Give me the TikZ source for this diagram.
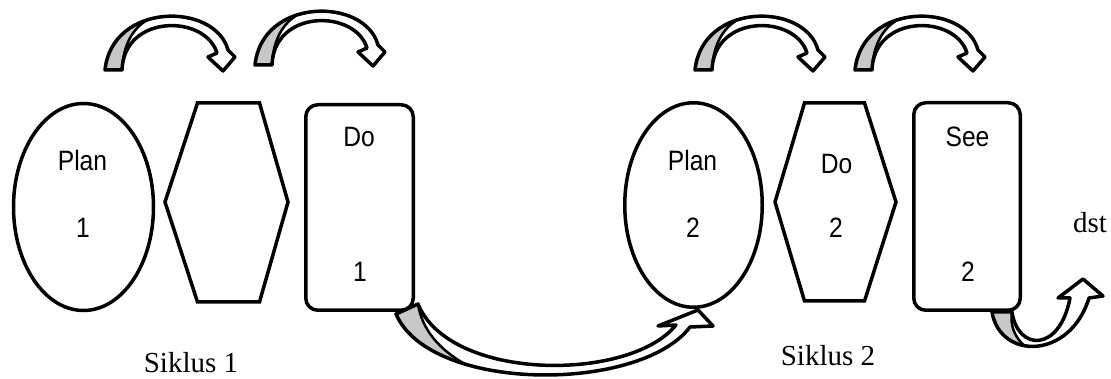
\documentclass[tikz,border=0pt]{standalone}
\usepackage{fontspec}
\setmainfont{Liberation Serif}
\newfontfamily\boxfont[FakeStretch=0.88]{Liberation Sans}
\usetikzlibrary{shapes.geometric}
\definecolor{arrowgray}{RGB}{200,200,200}
\tikzset{
  shapeline/.style={draw=black, line width=3.5pt, fill=white},
  boxtxt/.style={font=\boxfont\fontsize{28}{30}\selectfont, anchor=base, inner sep=0pt},
  sertxt/.style={font=\fontsize{29}{32}\selectfont, anchor=base, inner sep=0pt},
  arrowline/.style={draw=black, line width=3.5pt, line join=round},
  twistline/.style={draw=black, line width=2.5pt, line cap=round},
  toparrow/.pic={
    \fill[white] (0,0) -- (17,0) .. controls (19,-56) and (100,-56) .. (112,-17) -- (103,-13) -- (118,1) -- (130,-13) -- (123,-20) .. controls (110,-68) and (7,-68) .. (0,0) -- cycle;
    \fill[arrowgray] (0,0) .. controls (2.8,-27.2) and (21,-43.5) .. (42.6,-50.2) .. controls (28,-42) and (18,-25) .. (17,0) -- cycle;
    \draw[twistline] (42.6,-50.2) .. controls (28,-42) and (18,-25) .. (17,0);
    \draw[arrowline] (0,0) -- (17,0) .. controls (19,-56) and (100,-56) .. (112,-17) -- (103,-13) -- (118,1) -- (130,-13) -- (123,-20) .. controls (110,-68) and (7,-68) .. (0,0) -- cycle;
  }
}
\begin{document}
\begin{tikzpicture}[x=1pt, y=-1pt]
\useasboundingbox (0,0) rectangle (1111,379);

% top curved arrows
\pic at (105,70) {toparrow};
\pic at (255,65) {toparrow};
\pic at (695,70) {toparrow};
\pic at (855,70) {toparrow};

% big bottom arrow (Do 1 -> Plan 2)
\fill[white] (396,314) .. controls (430,393) and (640,393) .. (690,327) -- (713,326) -- (698,310) -- (658,326) -- (676,325) .. controls (630,382) and (450,382) .. (418,304) -- cycle;
\fill[arrowgray] (396,314) .. controls (406.2,337.7) and (432.2,354.3) .. (465,364.1) .. controls (440,350) and (422,330) .. (418,304) -- cycle;
\draw[twistline] (465,364.1) .. controls (440,350) and (422,330) .. (418,304);
\draw[arrowline] (396,314) .. controls (430,393) and (640,393) .. (690,327) -- (713,326) -- (698,310) -- (658,326) -- (676,325) .. controls (630,382) and (450,382) .. (418,304) -- cycle;

% small right arrow (See 2 -> dst)
\fill[white] (992,312) .. controls (1000,360) and (1070,360) .. (1089,298) -- (1103,296) -- (1083,279) -- (1058,298) -- (1070,298) .. controls (1060,352) and (1018,352) .. (1012,312) -- cycle;
\fill[arrowgray] (992,312) .. controls (995.2,331.2) and (1008.3,342.7) .. (1024.1,345.6) .. controls (1014,336) and (1010,325) .. (1012,312) -- cycle;
\draw[twistline] (1024.1,345.6) .. controls (1014,336) and (1010,325) .. (1012,312);
\draw[arrowline] (992,312) .. controls (1000,360) and (1070,360) .. (1089,298) -- (1103,296) -- (1083,279) -- (1058,298) -- (1070,298) .. controls (1060,352) and (1018,352) .. (1012,312) -- cycle;

% cycle 1 shapes
\node[shapeline, ellipse, inner sep=0pt, minimum width=140pt, minimum height=207pt] (plan1) at (83.5,207) {};
\draw[shapeline] (197.5,103) -- (259.5,103) -- (288,202) -- (259.5,302) -- (197.5,302) -- (165,202) -- cycle;
\coordinate (hex1) at (226,202);
\node[shapeline, rectangle, rounded corners=12pt, minimum width=107.5pt, minimum height=205.5pt] (do1) at (359.5,207.5) {};

% cycle 2 shapes
\node[shapeline, ellipse, inner sep=0pt, minimum width=137.5pt, minimum height=204.5pt] (plan2) at (693.5,205) {};
\draw[shapeline] (804.5,103) -- (864.5,103) -- (896,202) -- (864.5,301) -- (804.5,301) -- (775,202) -- cycle;
\coordinate (hex2) at (835.5,202);
\node[shapeline, rectangle, rounded corners=12pt, minimum width=106.5pt, minimum height=207.5pt] (see2) at (967,206.5) {};

% texts
\node[boxtxt] (plan1a) at (82.5,171) {Plan};
\node[boxtxt] (plan1b) at (83,238) {1};
\node[boxtxt] (do1a) at (359,147) {Do};
\node[boxtxt] (do1b) at (360,282) {1};
\node[boxtxt] (plan2a) at (692.5,171) {Plan};
\node[boxtxt] (plan2b) at (693,238) {2};
\node[boxtxt] (do2a) at (836.5,174) {Do};
\node[boxtxt] (do2b) at (836,238) {2};
\node[boxtxt] (see2a) at (967.5,147) {See};
\node[boxtxt] (see2b) at (968,282) {2};

\node[sertxt] (sik1) at (191,372) {Siklus 1};
\node[sertxt] (sik2) at (828,365) {Siklus 2};
\node[sertxt, anchor=base west] (dst) at (1073,233) {dst};
\end{tikzpicture}
\end{document}
